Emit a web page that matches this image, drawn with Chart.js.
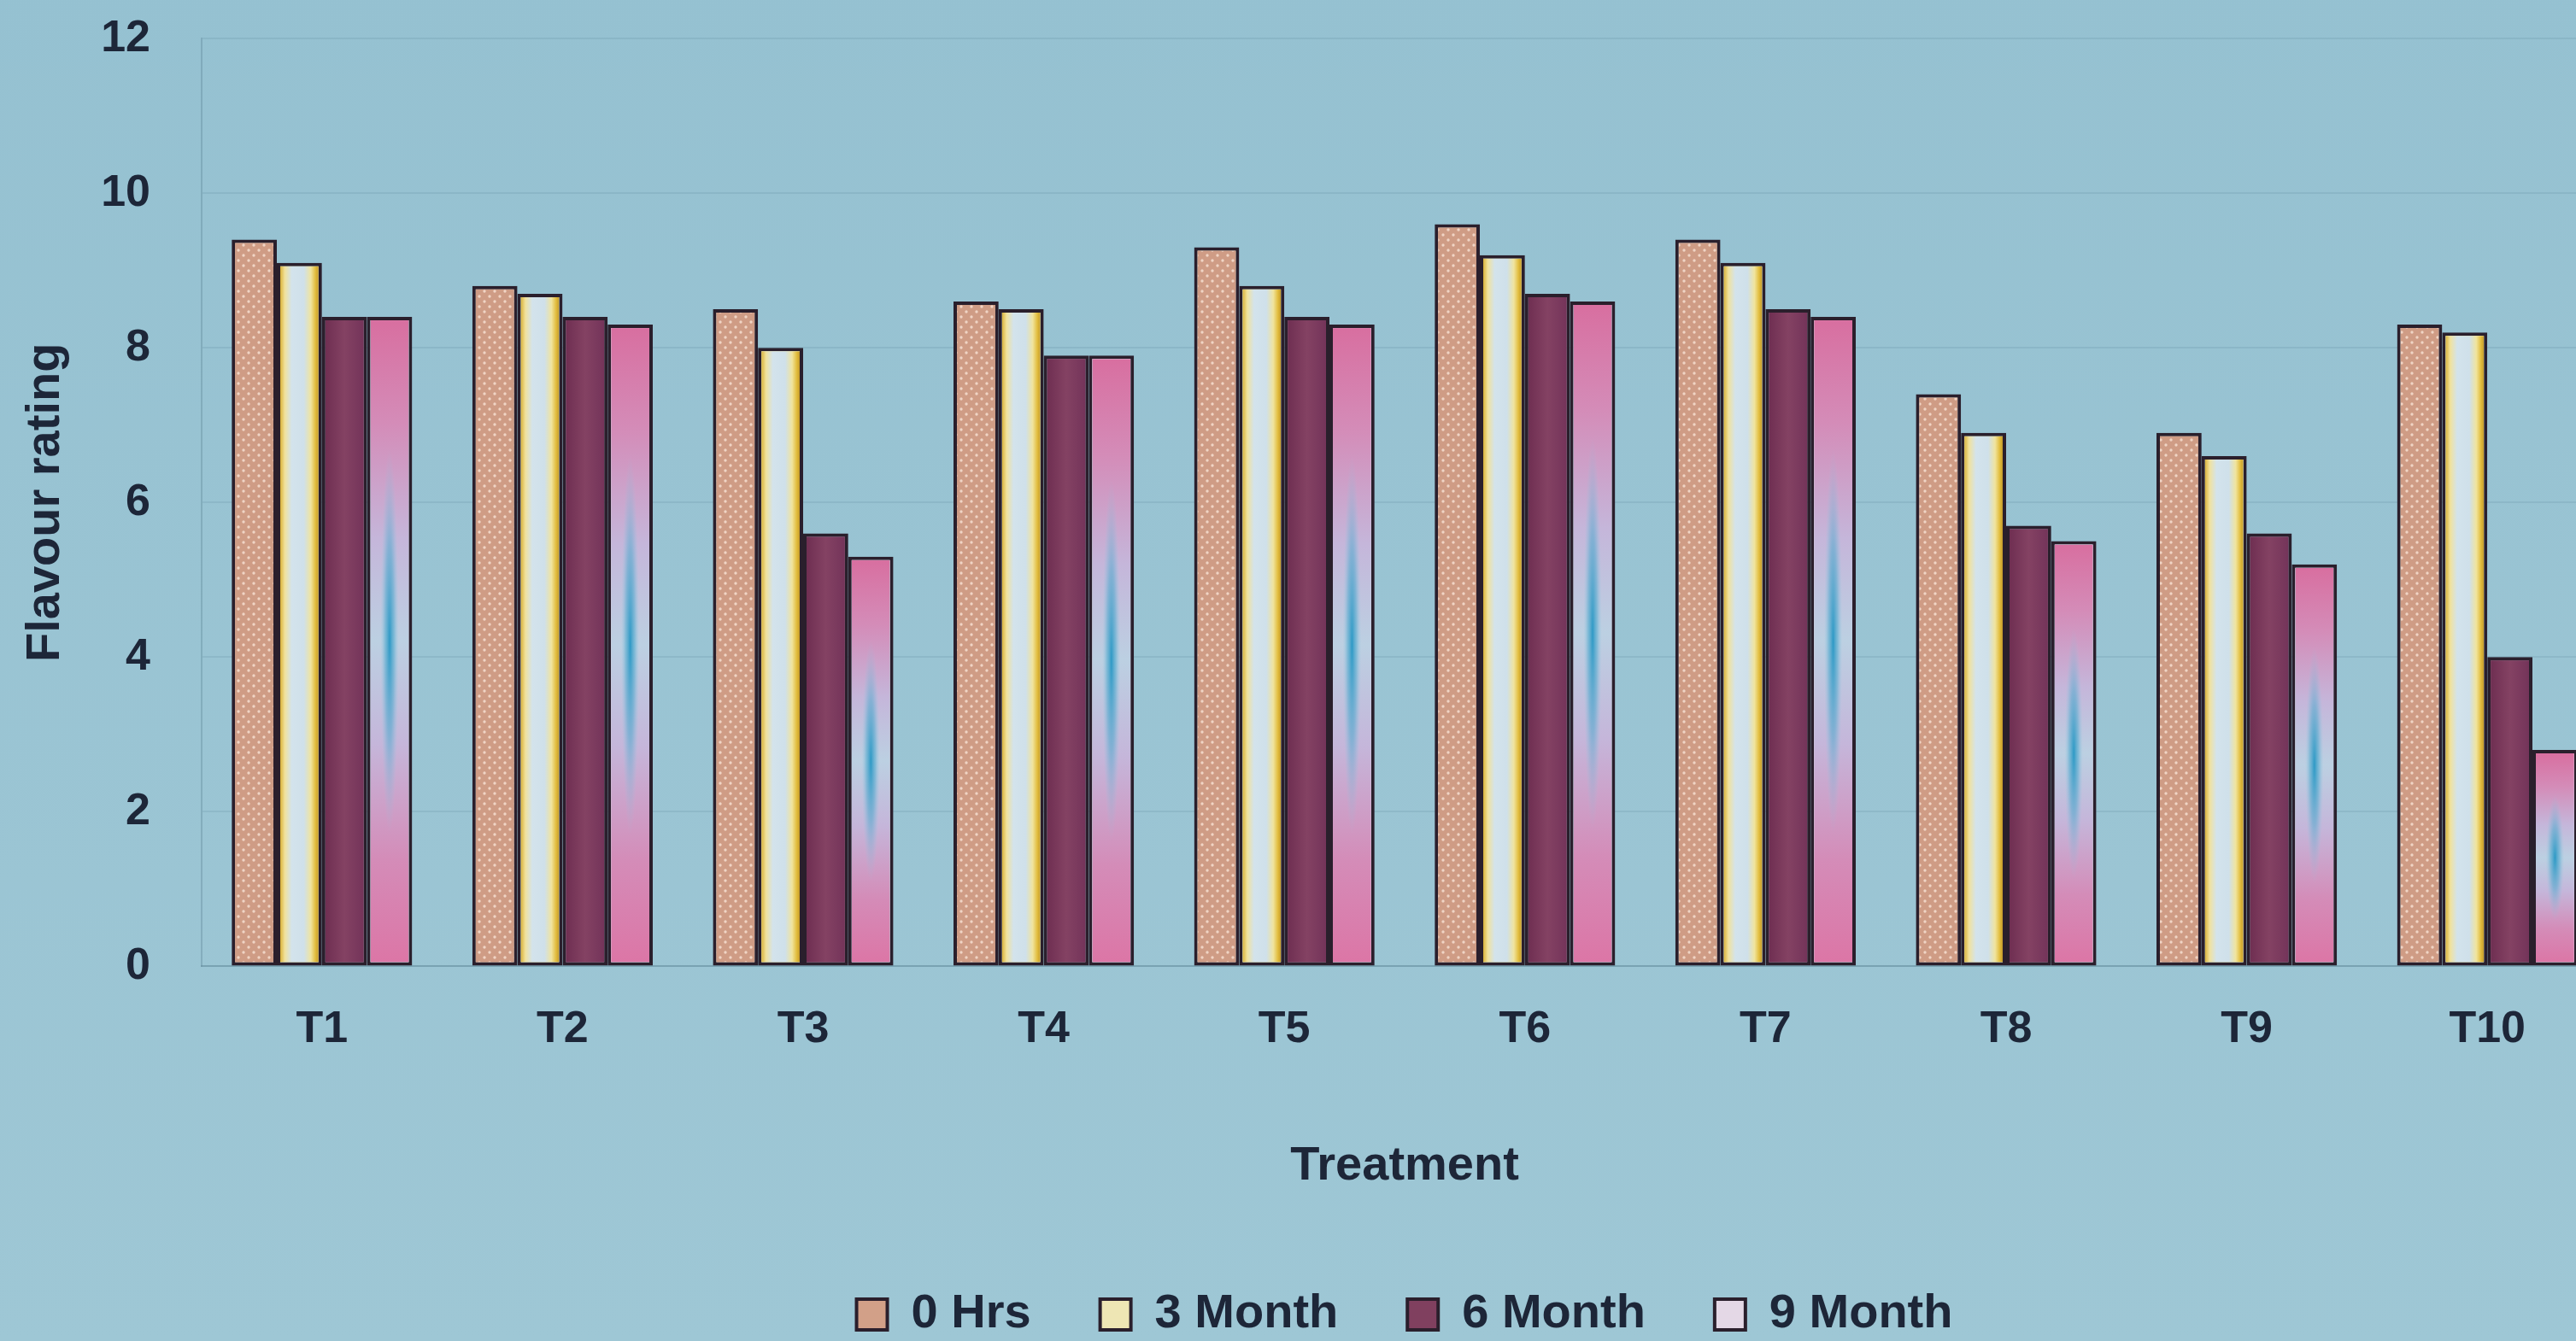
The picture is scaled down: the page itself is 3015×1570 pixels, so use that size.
<!DOCTYPE html>
<html>
<head>
<meta charset="utf-8">
<title>Flavour rating</title>
<script src="https://cdn.jsdelivr.net/npm/chart.js@4.4.1/dist/chart.umd.min.js"></script>
<style>
  html, body { margin: 0; padding: 0; overflow: hidden; background: #97c2d2; }
  #wrap { width: 3080px; height: 1623px; margin-top: -46px; }
</style>
</head>
<body>
<div id="wrap"><canvas id="grafikFlavour" width="3080" height="1623"></canvas></div>
<script>
// ratings per treatment, one array per storage period
const treatments = ['T1', 'T2', 'T3', 'T4', 'T5', 'T6', 'T7', 'T8', 'T9', 'T10'];
const hrs0   = [9.4, 8.8, 8.5, 8.6, 9.3, 9.6, 9.4, 7.4, 6.9, 8.3];
const month3 = [9.1, 8.7, 8.0, 8.5, 8.8, 9.2, 9.1, 6.9, 6.6, 8.2];
const month6 = [8.4, 8.4, 5.6, 7.9, 8.4, 8.7, 8.5, 5.7, 5.6, 4.0];
const month9 = [8.4, 8.3, 5.3, 7.9, 8.3, 8.6, 8.4, 5.5, 5.2, 2.8];
const yTicks = [0, 2, 4, 6, 8, 10, 12];

const FONT = '"Liberation Sans", Arial, sans-serif';
const INK = '#1d2638';
const EDGE = '#2a1f2c';
const BW = 4;

// small tile with light dots for the 0 Hrs bars
function dotTile() {
    const c = document.createElement('canvas');
    c.width = 12; c.height = 12;
    const g = c.getContext('2d');
    g.fillStyle = '#cf9c85';
    g.fillRect(0, 0, 12, 12);
    g.fillStyle = 'rgba(246,222,208,0.85)';
    g.beginPath(); g.arc(3, 3, 1.7, 0, Math.PI * 2); g.fill();
    g.beginPath(); g.arc(9, 9, 1.7, 0, Math.PI * 2); g.fill();
    return c;
}

const barFill = {
    id: 'barFill',
    afterDatasetDraw(chart, args) {
        const ctx = chart.ctx;
        const k = args.index;
        const tile = ctx.createPattern(dotTile(), 'repeat');
        args.meta.data.forEach(bar => {
            const p = bar.getProps(['x', 'y', 'base', 'width'], true);
            const l = p.x - p.width / 2 + BW;
            const w = p.width - BW * 2;
            const t = p.y + BW;
            const h = p.base - BW - t;
            if (h <= 0) return;
            ctx.save();
            ctx.beginPath();
            ctx.rect(l, t, w, h);
            ctx.clip();
            if (k === 0) {
                ctx.fillStyle = tile;
                ctx.fillRect(l, t, w, h);
            } else if (k === 1) {
                const g = ctx.createLinearGradient(l, 0, l + w, 0);
                g.addColorStop(0, '#d9b23a');
                g.addColorStop(0.12, '#f1e29c');
                g.addColorStop(0.3, '#d3e3ec');
                g.addColorStop(0.62, '#cfe0ea');
                g.addColorStop(0.8, '#f0e49e');
                g.addColorStop(0.92, '#e2bd3e');
                g.addColorStop(1, '#c49a2a');
                ctx.fillStyle = g;
                ctx.fillRect(l, t, w, h);
            } else if (k === 2) {
                const g = ctx.createLinearGradient(l, 0, l + w, 0);
                g.addColorStop(0, '#6f2f52');
                g.addColorStop(0.5, '#844263');
                g.addColorStop(1, '#74345a');
                ctx.fillStyle = g;
                ctx.fillRect(l, t, w, h);
            } else {
                const g = ctx.createLinearGradient(0, t, 0, t + h);
                g.addColorStop(0, '#d86fa0');
                g.addColorStop(0.16, '#d48cb8');
                g.addColorStop(0.34, '#c5b6da');
                g.addColorStop(0.5, '#bcd0e2');
                g.addColorStop(0.66, '#c5b6da');
                g.addColorStop(0.84, '#d48cb8');
                g.addColorStop(1, '#dc76a6');
                ctx.fillStyle = g;
                ctx.fillRect(l, t, w, h);
                // teal streak in the middle of the bar
                ctx.translate(l + w / 2, t + h / 2);
                ctx.scale(w * 0.24, h * 0.3);
                const r = ctx.createRadialGradient(0, 0, 0, 0, 0, 1);
                r.addColorStop(0, 'rgba(38,150,196,0.95)');
                r.addColorStop(0.5, 'rgba(80,170,206,0.55)');
                r.addColorStop(1, 'rgba(150,200,225,0)');
                ctx.fillStyle = r;
                ctx.fillRect(-1.2, -1.2, 2.4, 2.4);
            }
            ctx.restore();
        });
    }
};

const backdrop = {
    id: 'backdrop',
    beforeDraw(chart) {
        const ctx = chart.ctx;
        const g = ctx.createLinearGradient(0, 0, 0, chart.height);
        g.addColorStop(0, '#95c1d1');
        g.addColorStop(1, '#9ec7d5');
        ctx.save();
        ctx.fillStyle = g;
        ctx.fillRect(0, 0, chart.width, chart.height);
        ctx.restore();
    }
};

const ctx = document.getElementById('grafikFlavour').getContext('2d');

new Chart(ctx, {
    type: 'bar',
    data: {
        labels: treatments,
        datasets: [
            { label: '0 Hrs', data: hrs0, backgroundColor: '#d2a088' },
            { label: '3 Month', data: month3, backgroundColor: '#eee6b4' },
            { label: '6 Month', data: month6, backgroundColor: '#80405f' },
            { label: '9 Month', data: month9, backgroundColor: '#e4d8e6' }
        ]
    },
    options: {
        responsive: false,
        animation: false,
        devicePixelRatio: 1,
        categoryPercentage: 0.75,
        barPercentage: 1.0,
        borderColor: EDGE,
        borderWidth: BW,
        borderSkipped: false,
        layout: { padding: { top: 0, left: 20, right: 28, bottom: 0 } },
        plugins: {
            legend: {
                position: 'bottom',
                fullSize: false,
                labels: {
                    font: { family: FONT, size: 56, weight: 'bold' },
                    color: INK,
                    boxWidth: 36,
                    boxHeight: 36,
                    padding: 81
                }
            },
            tooltip: { enabled: false }
        },
        scales: {
            x: {
                grid: { display: false },
                border: { color: 'rgba(80,120,135,0.35)', width: 2 },
                ticks: {
                    font: { family: FONT, size: 52, weight: 'bold' },
                    color: INK,
                    padding: 35
                },
                title: {
                    display: true,
                    text: 'Treatment',
                    font: { family: FONT, size: 56, weight: 'bold' },
                    color: INK,
                    padding: { top: 60, bottom: 31 }
                }
            },
            y: {
                min: 0,
                max: 12,
                afterBuildTicks: s => { s.ticks = yTicks.map(v => ({ value: v })); },
                afterFit: s => { s.width = 216; },
                grid: { color: 'rgba(80,125,140,0.16)', lineWidth: 2, drawTicks: false },
                border: { color: 'rgba(80,120,135,0.3)', width: 2 },
                ticks: {
                    font: { family: FONT, size: 52, weight: 'bold' },
                    color: INK,
                    padding: 60
                },
                title: {
                    display: true,
                    text: 'Flavour rating',
                    font: { family: FONT, size: 56, weight: 'bold' },
                    color: INK,
                    padding: { top: 0, bottom: 30 }
                }
            }
        }
    },
    plugins: [backdrop, barFill]
});
</script>
</body>
</html>
